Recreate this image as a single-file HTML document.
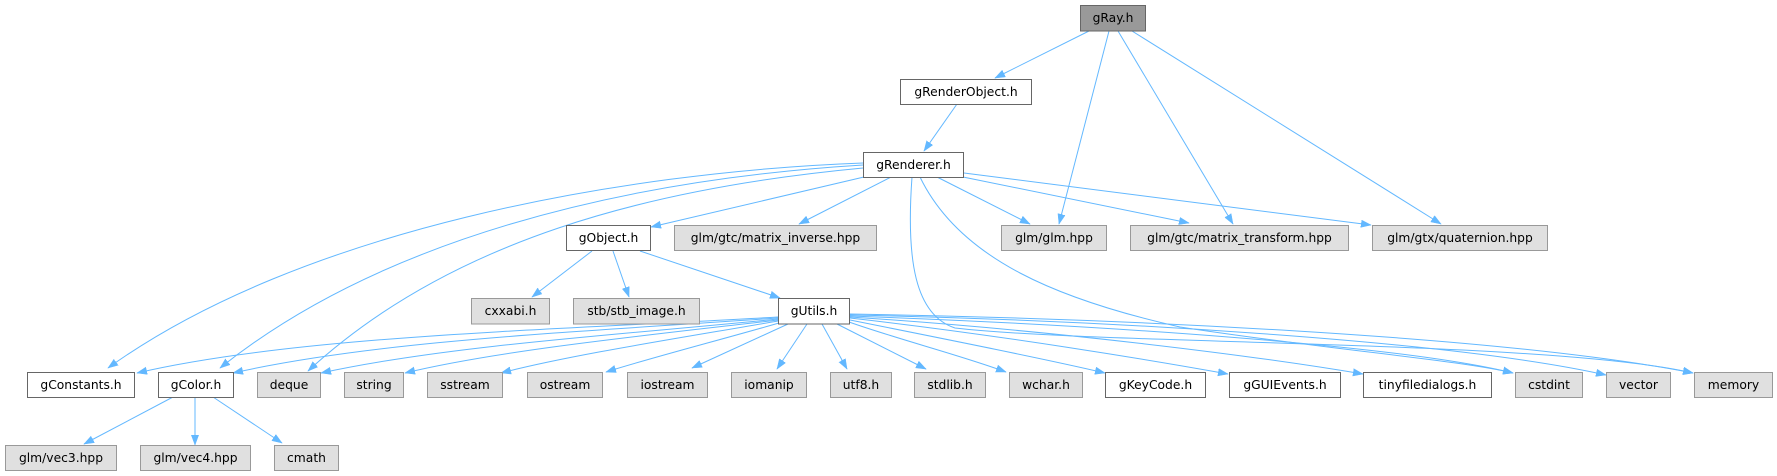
<!DOCTYPE html>
<html>
<head>
<meta charset="utf-8">
<style>
  html, body { margin: 0; padding: 0; background: #ffffff; }
  svg { display: block; }
  text { font-family: "DejaVu Sans", "Liberation Sans", sans-serif; font-size: 12.3px; fill: #000; text-anchor: middle; }
  .e { fill: none; stroke: #63b8ff; stroke-width: 1; marker-end: url(#ah); }
  .w { fill: #ffffff; stroke: #666666; stroke-width: 1; }
  .g { fill: #e0e0e0; stroke: #999999; stroke-width: 1; }
  .r { fill: #999999; stroke: #666666; stroke-width: 1; }
</style>
</head>
<body>
<svg width="1777" height="476" viewBox="0 0 1777 476" xmlns="http://www.w3.org/2000/svg">
  <defs>
    <marker id="ah" markerUnits="userSpaceOnUse" markerWidth="11" markerHeight="9" refX="10" refY="4" orient="auto">
      <path d="M0,0.3 L10,4 L0,7.7 z" fill="#63b8ff" stroke="#63b8ff" stroke-width="0.5"/>
    </marker>
  </defs>

  <!-- edges from gRay.h -->
  <path class="e" d="M1089,31 L995,78"/>
  <path class="e" d="M1109,31 L1059,224"/>
  <path class="e" d="M1118,31 L1233,224"/>
  <path class="e" d="M1132,31 L1441,224"/>

  <!-- gRenderObject -> gRenderer -->
  <path class="e" d="M957,104 L924,151"/>

  <!-- edges from gRenderer.h -->
  <path class="e" d="M864,177 L651,227"/>
  <path class="e" d="M891,177 L799,224"/>
  <path class="e" d="M937,177 L1030,224"/>
  <path class="e" d="M963,177 L1189,223"/>
  <path class="e" d="M964,173 L1371,225"/>
  <path class="e" d="M863,163 C 620,172 300,230 108,368"/>
  <path class="e" d="M863,165 C 620,180 380,240 220,368"/>
  <path class="e" d="M863,168 C 650,188 450,240 308,371"/>
  <path class="e" d="M912,177 C 906,260 915,315 955,328 C 1100,345 1550,340 1693,373"/>
  <path class="e" d="M920,177 C 960,260 1060,300 1180,327 C 1330,350 1460,360 1513,373"/>

  <!-- edges from gObject.h -->
  <path class="e" d="M592,251 L532,297"/>
  <path class="e" d="M613,251 L629,297"/>
  <path class="e" d="M640,251 L780,298"/>

  <!-- edges from gUtils.h (left) -->
  <path class="e" d="M778,317 C 560,330 300,335 137,373"/>
  <path class="e" d="M778,318 C 580,332 380,340 233,373"/>
  <path class="e" d="M778,319 C 620,335 450,345 321,373"/>
  <path class="e" d="M778,320 C 650,335 500,350 405,373"/>
  <path class="e" d="M778,321 C 680,338 570,355 501,373"/>
  <path class="e" d="M779,323 C 720,340 650,358 606,372"/>
  <!-- bottom -->
  <path class="e" d="M788,324 L692,368"/>
  <path class="e" d="M807,324 L777,369"/>
  <path class="e" d="M822,324 L847,369"/>
  <path class="e" d="M837,324 L926,369"/>
  <!-- right -->
  <path class="e" d="M849,322 C 900,340 960,355 1006,372"/>
  <path class="e" d="M850,320 C 950,340 1050,360 1105,373"/>
  <path class="e" d="M850,318 C 1000,335 1150,360 1228,374"/>
  <path class="e" d="M850,317 C 1050,330 1250,355 1363,374"/>
  <path class="e" d="M850,316 C 1100,325 1400,345 1513,373"/>
  <path class="e" d="M850,315 C 1100,320 1450,340 1606,375"/>
  <path class="e" d="M850,314 C 1100,318 1500,335 1693,373"/>

  <!-- edges from gColor.h -->
  <path class="e" d="M173,397 L84,444"/>
  <path class="e" d="M195,397 L195,445"/>
  <path class="e" d="M213,397 L282,443"/>

  <!-- nodes -->
  <rect class="r" x="1080.5" y="5.5" width="65" height="25.5"/>
  <text x="1113" y="22">gRay.h</text>

  <rect class="w" x="900.5" y="79.5" width="131" height="25"/>
  <text x="966" y="96">gRenderObject.h</text>

  <rect class="w" x="863.5" y="152.5" width="100" height="25"/>
  <text x="913.5" y="169">gRenderer.h</text>

  <rect class="w" x="566.5" y="225.5" width="84" height="25"/>
  <text x="608.5" y="242">gObject.h</text>

  <rect class="g" x="674.5" y="225.5" width="202" height="25"/>
  <text x="775.5" y="242">glm/gtc/matrix_inverse.hpp</text>

  <rect class="g" x="1001.5" y="225.5" width="105" height="25"/>
  <text x="1054" y="242">glm/glm.hpp</text>

  <rect class="g" x="1130.5" y="225.5" width="218" height="25"/>
  <text x="1239.5" y="242">glm/gtc/matrix_transform.hpp</text>

  <rect class="g" x="1372.5" y="225.5" width="175" height="25"/>
  <text x="1460" y="242">glm/gtx/quaternion.hpp</text>

  <rect class="g" x="471.5" y="298.5" width="78" height="25.5"/>
  <text x="510.5" y="315">cxxabi.h</text>

  <rect class="g" x="573.5" y="298.5" width="126" height="25.5"/>
  <text x="636.5" y="315">stb/stb_image.h</text>

  <rect class="w" x="778.5" y="298.5" width="71" height="25.5"/>
  <text x="814" y="315">gUtils.h</text>

  <!-- row 5 -->
  <rect class="w" x="27.5" y="372.5" width="107" height="25"/>
  <text x="81" y="389">gConstants.h</text>

  <rect class="w" x="158.5" y="372.5" width="75" height="25"/>
  <text x="196" y="389">gColor.h</text>

  <rect class="g" x="257.5" y="372.5" width="63" height="25"/>
  <text x="289" y="389">deque</text>

  <rect class="g" x="344.5" y="372.5" width="59" height="25"/>
  <text x="374" y="389">string</text>

  <rect class="g" x="427.5" y="372.5" width="75" height="25"/>
  <text x="465" y="389">sstream</text>

  <rect class="g" x="527.5" y="372.5" width="75" height="25"/>
  <text x="565" y="389">ostream</text>

  <rect class="g" x="627.5" y="372.5" width="80" height="25"/>
  <text x="667.5" y="389">iostream</text>

  <rect class="g" x="731.5" y="372.5" width="75" height="25"/>
  <text x="769" y="389">iomanip</text>

  <rect class="g" x="830.5" y="372.5" width="61" height="25"/>
  <text x="861" y="389">utf8.h</text>

  <rect class="g" x="914.5" y="372.5" width="71" height="25"/>
  <text x="950" y="389">stdlib.h</text>

  <rect class="g" x="1009.5" y="372.5" width="73" height="25"/>
  <text x="1046" y="389">wchar.h</text>

  <rect class="w" x="1105.5" y="372.5" width="100" height="25"/>
  <text x="1155.5" y="389">gKeyCode.h</text>

  <rect class="w" x="1229.5" y="372.5" width="111" height="25"/>
  <text x="1285" y="389">gGUIEvents.h</text>

  <rect class="w" x="1363.5" y="372.5" width="128" height="25"/>
  <text x="1427.5" y="389">tinyfiledialogs.h</text>

  <rect class="g" x="1515.5" y="372.5" width="67" height="25"/>
  <text x="1549" y="389">cstdint</text>

  <rect class="g" x="1606.5" y="372.5" width="64" height="25"/>
  <text x="1638.5" y="389">vector</text>

  <rect class="g" x="1694.5" y="372.5" width="78" height="25"/>
  <text x="1733.5" y="389">memory</text>

  <!-- row 6 -->
  <rect class="g" x="5.5" y="445.5" width="111" height="25"/>
  <text x="61" y="462">glm/vec3.hpp</text>

  <rect class="g" x="140.5" y="445.5" width="110" height="25"/>
  <text x="195.5" y="462">glm/vec4.hpp</text>

  <rect class="g" x="274.5" y="445.5" width="64" height="25"/>
  <text x="306.5" y="462">cmath</text>
</svg>
</body>
</html>
